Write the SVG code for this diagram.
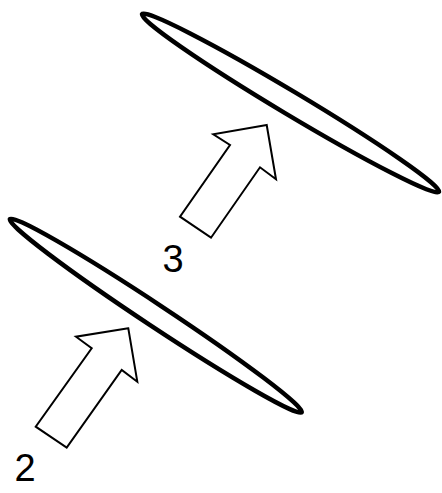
<svg xmlns="http://www.w3.org/2000/svg" width="442" height="493" viewBox="0 0 442 493">
<style>
.lens{fill:#fff;stroke:#000;stroke-width:4.5}
.arrow{fill:#fff;stroke:#000;stroke-width:2;stroke-linejoin:miter}
.lbl{font-family:"Liberation Sans",Arial,sans-serif;font-size:38px;fill:#000;text-anchor:middle}
</style>
<rect width="442" height="493" fill="#fff"/>
<g id="lens3">
<ellipse class="lens" cx="0" cy="0" rx="173" ry="11.5" transform="translate(290.5 103) rotate(30.9)"/>
</g>
<g id="lens2">
<ellipse class="lens" cx="0" cy="0" rx="175" ry="11" transform="translate(155.8 315.7) rotate(33.5)"/>
</g>
<g id="connectors">
<polygon id="arrow3" class="arrow" points="266.7,125 213.3,134.3 230,145 180,216.7 211,237.7 260,167.3 276,179.3"/>
<polygon id="arrow2" class="arrow" points="128.3,328.3 76,336.7 91.7,348.3 35.7,426.7 66.7,447.7 121.7,370 137.3,381.7"/>
</g>
<g id="label3"><text class="lbl" x="173" y="272">3</text></g>
<g id="label2"><text class="lbl" x="25" y="481">2</text></g>
</svg>
